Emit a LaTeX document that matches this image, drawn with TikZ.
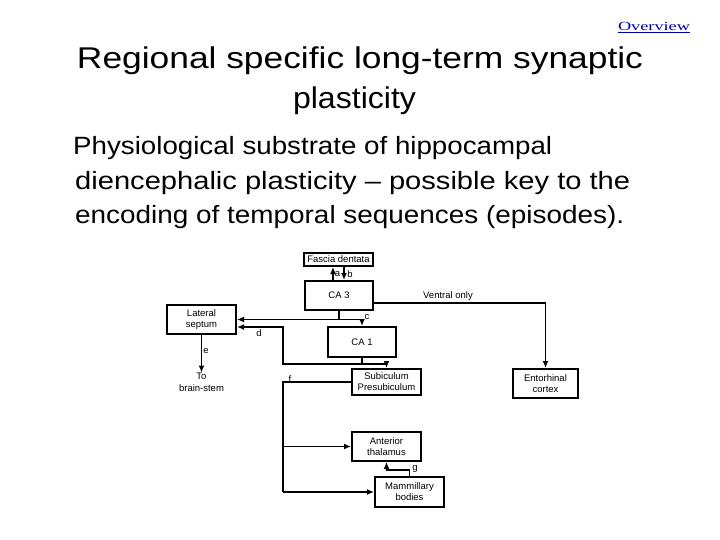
\documentclass[tikz,border=0pt]{standalone}
\usepackage{fontspec}
\setmainfont{Liberation Sans}
\newfontfamily\timesfont{Liberation Serif}
\usetikzlibrary{arrows.meta}
\definecolor{linkblue}{RGB}{0,0,170}
\newcommand\fitto[2]{\resizebox{#1}{\height}{#2}}
\begin{document}
\begin{tikzpicture}[x=1pt,y=-1pt,
  box/.style={draw, line width=2pt, fill=white, inner sep=0pt, align=center,
    font=\fontsize{9.5}{11}\selectfont},
  conn/.style={line width=1.6pt},
  arr/.style={conn, -{Latex[length=7pt,width=6pt]}},
  lbl/.style={font=\fontsize{9.5}{12}\selectfont, inner sep=0pt},
  title/.style={font=\fontsize{30}{36}\selectfont, inner sep=0pt, anchor=base},
  body/.style={font=\fontsize{25}{30}\selectfont, inner sep=0pt, anchor=base west}]
\useasboundingbox[fill=white] (0,0) rectangle (720,540);

% header texts
\node[inner sep=0pt, anchor=base, font=\timesfont\fontsize{12.5}{14}\selectfont, text=linkblue] (ov) at (654,31) {\fitto{72pt}{\underline{Overview}}};
\node[title] (t1) at (360,69) {\fitto{566pt}{Regional specific long-term synaptic}};
\node[title] (t2) at (354.5,109) {\fitto{123pt}{plasticity}};
\node[body] (b1) at (73,155) {\fitto{479pt}{Physiological substrate of hippocampal}};
\node[body] (b2) at (75,190) {\fitto{555pt}{diencephalic plasticity -- possible key to the}};
\node[body] (b3) at (75,224) {\fitto{549pt}{encoding of temporal sequences (episodes).}};

% boxes
\node[box, minimum width=69pt, minimum height=13pt] (fd) at (338.5,259.5) {Fascia dentata};
\node[box, minimum width=68pt, minimum height=29pt] (ca3) at (339,295.5) {CA 3};
\node[box, minimum width=69pt, minimum height=29pt] (ls) at (201.5,319.5) {Lateral\\septum};
\node[box, minimum width=68pt, minimum height=30pt] (ca1) at (362,342) {CA 1};
\node[box, minimum width=69pt, minimum height=26pt] (sub) at (386.5,382) {Subiculum\\Presubiculum};
\node[box, minimum width=65pt, minimum height=29pt] (ent) at (545.5,383.5) {Entorhinal\\cortex};
\node[box, minimum width=69pt, minimum height=29pt] (at) at (386.5,446.5) {Anterior\\thalamus};
\node[box, minimum width=69pt, minimum height=30pt] (mb) at (409.5,492) {Mammillary\\bodies};
\node[lbl, align=center, anchor=north] (tbs) at (201.5,372.5) {To\\brain-stem};

% coordinates
\coordinate (ax) at (333,0);
\coordinate (bx) at (344,0);
\coordinate (j1) at (339,319.5);
\coordinate (j2) at (362,319.5);
\coordinate (k1) at (362,364);
\coordinate (k2) at (386.5,364);
\coordinate (k3) at (283,364);
\coordinate (k4) at (283,327);
\coordinate (f1) at (283,382);
\coordinate (f2) at (283,446.5);
\coordinate (f3) at (283,492);
\coordinate (g1) at (409.5,470);
\coordinate (g2) at (386.5,470);
\coordinate (v1) at (545.5,303);

% connectors
\draw[arr] (ax |- ca3.north) -- (ax |- fd.south);
\draw[arr] (bx |- fd.south) -- (bx |- ca3.north);
\draw[conn] (ca3.south) -- (j1);
\draw[arr] (j2) -- (ls.east);
\draw[arr] (j2) -- (ca1.north);
\draw[conn] (ca1.south) -- (k1);
\draw[arr] (k1) -- (k3) -- (k4) -- (ls.east |- k4);
\draw[arr] (k1) -- (k2) -- (sub.north);
\draw[arr] (ls.south) -- (tbs.north);
\draw[conn] (sub.west) -- (f1) -- (f3);
\draw[arr] (f2) -- (at.west);
\draw[arr] (f3) -- (mb.west);
\draw[arr] (mb.north) -- (g1) -- (g2) -- (at.south);
\draw[arr] (ca3.east |- v1) -- (v1) -- (ent.north);

% labels
\node[lbl] (la) at (337.5,274) {a};
\node[lbl] (lb) at (350,274) {b};
\node[lbl] (lc) at (367,317) {c};
\node[lbl] (ld) at (259,333) {d};
\node[lbl] (le) at (206,350.5) {e};
\node[lbl] (lf) at (290,379) {f};
\node[lbl] (lg) at (415,469) {g};
\node[lbl] (lv) at (448,296) {Ventral only};
\end{tikzpicture}
\end{document}
